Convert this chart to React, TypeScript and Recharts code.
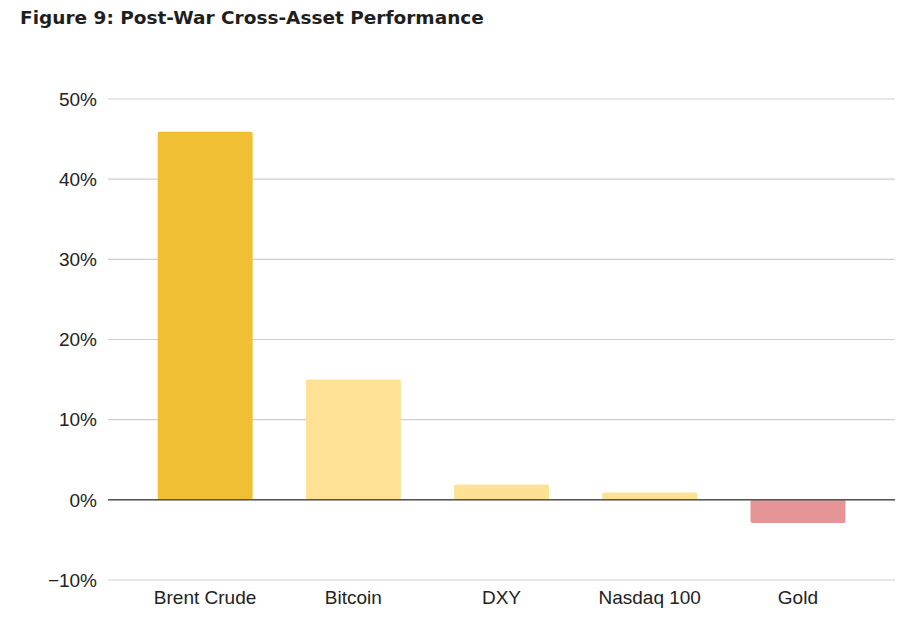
import React from 'react';
import { BarChart, Bar, XAxis, YAxis, CartesianGrid, ReferenceLine, Cell } from 'recharts';

const categories = ['Brent Crude', 'Bitcoin', 'DXY', 'Nasdaq 100', 'Gold'];
const performance = [45.9, 15.0, 1.9, 0.9, -2.9];
const barColors = ['#F0BF33', '#FDE194', '#FDE194', '#FDE194', '#E59595'];
const yTicks = [-10, 0, 10, 20, 30, 40, 50];

const data = categories.map((name, i) => ({ name, value: performance[i] }));

const fmtPct = (v: number) => (v < 0 ? `\u2212${Math.abs(v)}%` : `${v}%`);

export default function App() {
  return (
    <div style={{ position: 'absolute', left: 0, top: 0, width: 923, height: 625, background: '#fff' }}>
      <div
        style={{
          position: 'absolute',
          left: 20,
          top: 7,
          fontFamily: '"DejaVu Sans", sans-serif',
          fontWeight: 700,
          fontSize: 18.5,
          color: '#1f1f1f',
          whiteSpace: 'nowrap',
        }}
      >
        Figure 9: Post-War Cross-Asset Performance
      </div>
      <BarChart
        width={923}
        height={625}
        data={data}
        margin={{ top: 99, right: 28, bottom: 0, left: 0 }}
        barCategoryGap="18%"
      >
        <CartesianGrid vertical={false} stroke="#cfcfcf" strokeWidth={1.2} />
        <XAxis
          dataKey="name"
          axisLine={false}
          tickLine={false}
          tickSize={0}
          tickMargin={11}
          height={45}
          padding={{ left: 23, right: 23 }}
          tick={{ fill: '#222', fontSize: 19, fontFamily: '"Liberation Sans", Arial, sans-serif' }}
        />
        <YAxis
          domain={[-10, 50]}
          ticks={yTicks}
          interval={0}
          axisLine={false}
          tickLine={false}
          tickSize={0}
          tickMargin={11}
          width={108}
          tickFormatter={fmtPct}
          tick={{ fill: '#222', fontSize: 19, fontFamily: '"Liberation Sans", Arial, sans-serif' }}
        />
        <Bar dataKey="value" isAnimationActive={false} radius={[2, 2, 2, 2]}>
          {data.map((d, i) => (
            <Cell key={d.name} fill={barColors[i]} />
          ))}
        </Bar>
        <ReferenceLine y={0} stroke="#555" strokeWidth={1.5} />
      </BarChart>
    </div>
  );
}
